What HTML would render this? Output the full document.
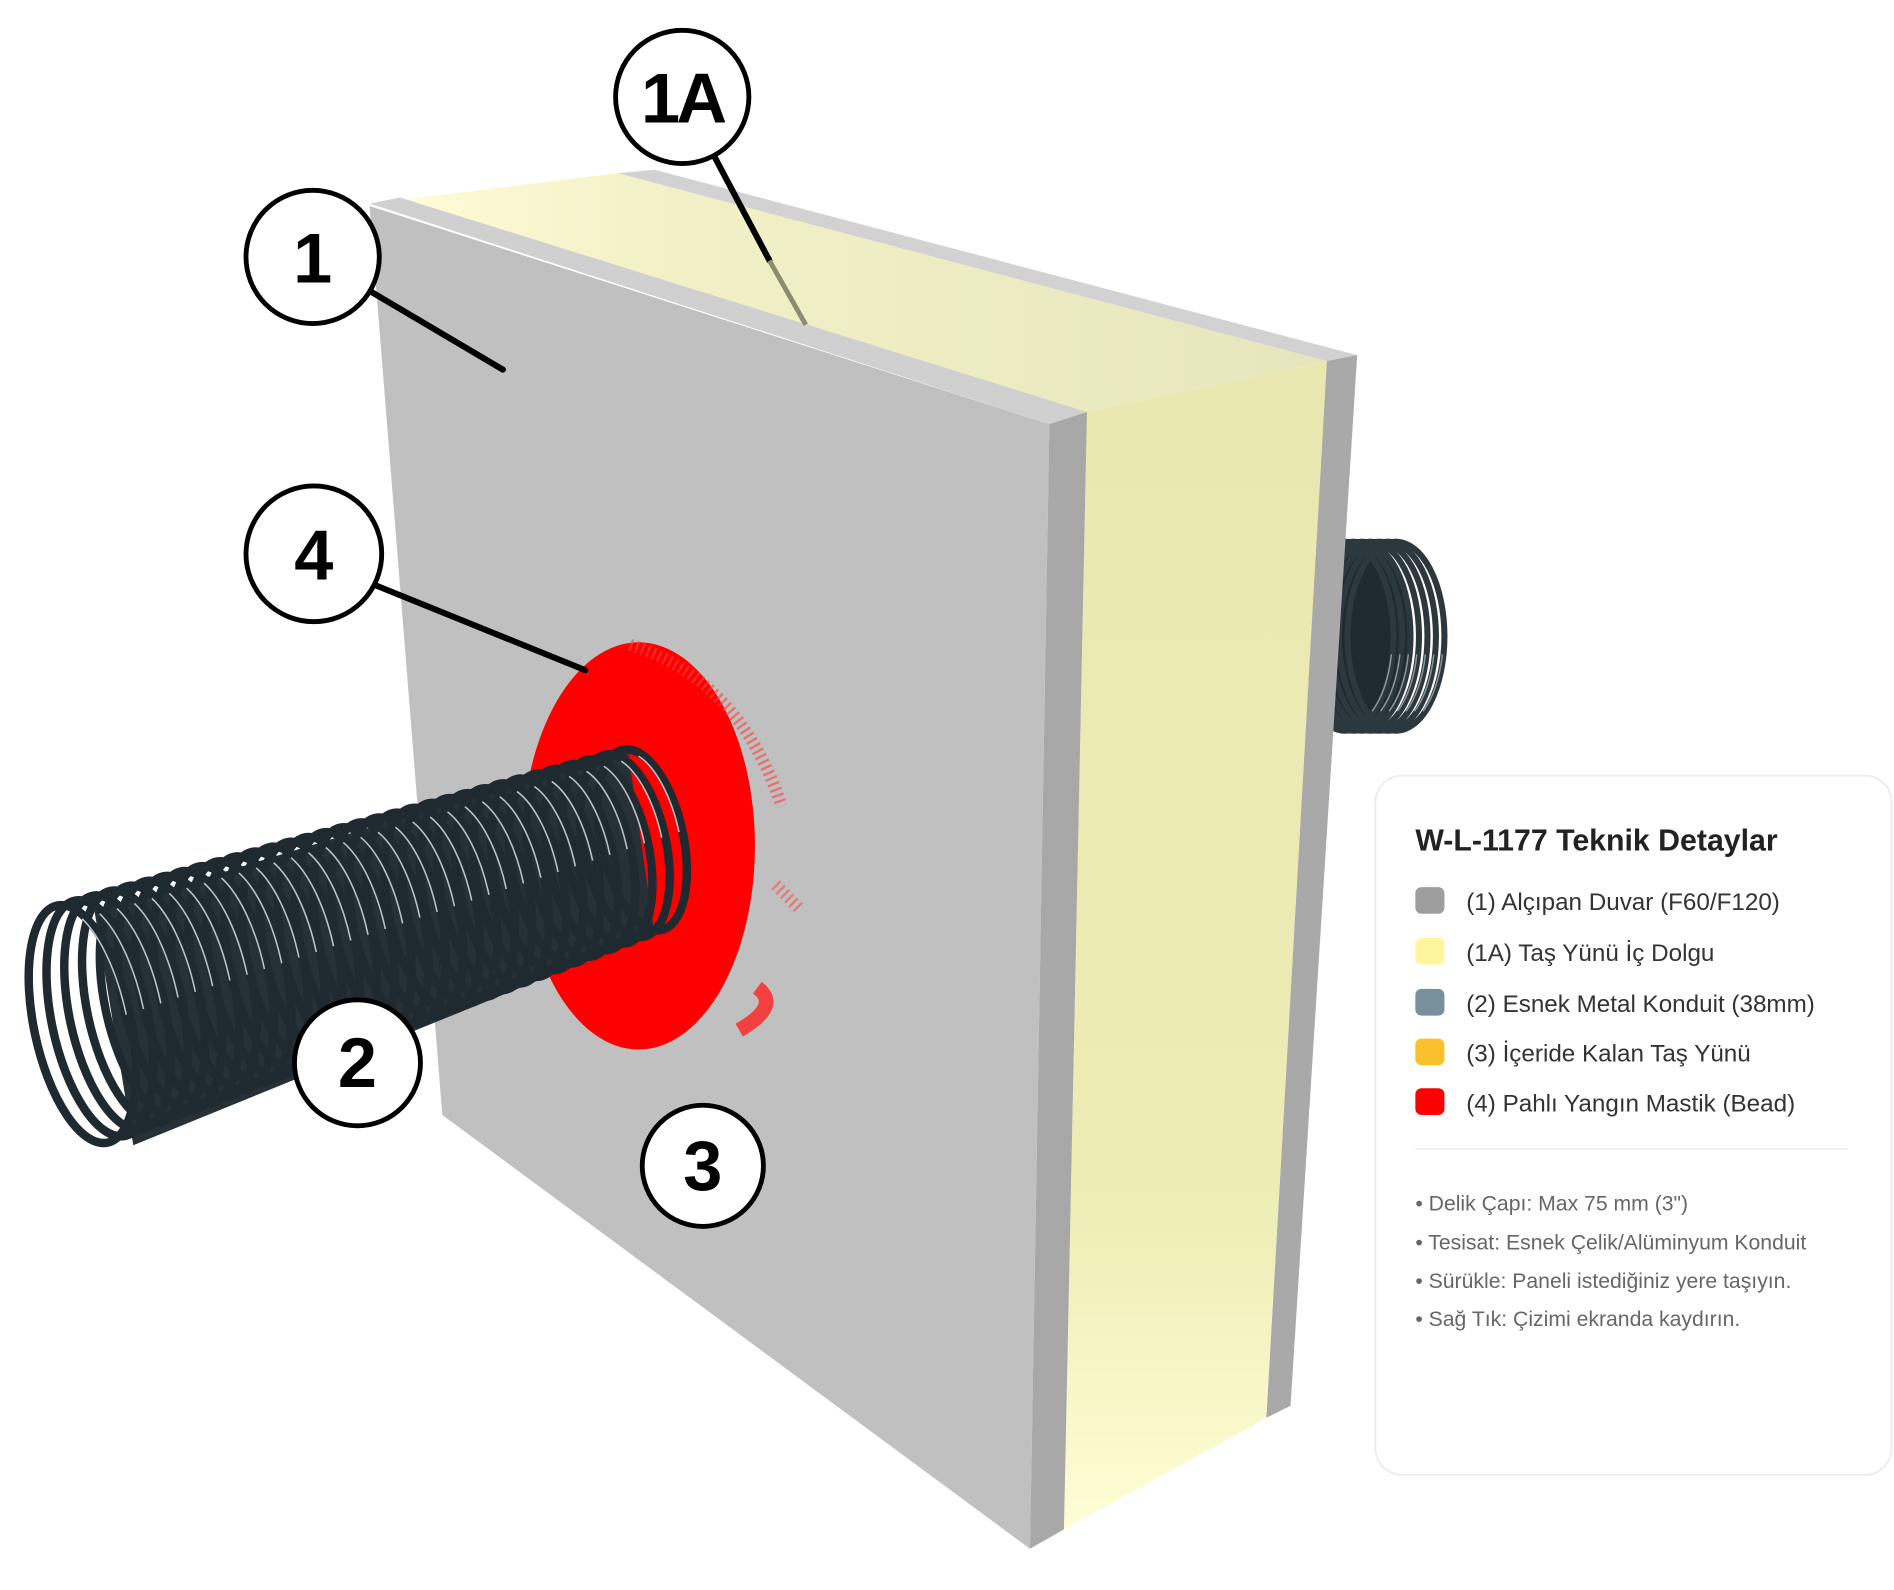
<!DOCTYPE html>
<html><head><meta charset="utf-8"><style>
html,body{margin:0;padding:0;background:#fff;width:1894px;height:1590px;overflow:hidden}
svg{display:block}
text{font-family:"Liberation Sans",sans-serif}
</style></head><body>
<svg id="s" width="1894" height="1590" viewBox="0 0 1563 1312" preserveAspectRatio="none" xmlns="http://www.w3.org/2000/svg">
<defs>
<linearGradient id="yr" x1="0" y1="0" x2="0" y2="1"><stop offset="0" stop-color="#e8e8b0"/><stop offset="0.7" stop-color="#ececb4"/><stop offset="1" stop-color="#fffdd4"/></linearGradient>
<linearGradient id="yt" x1="0" y1="0" x2="1" y2="0"><stop offset="0" stop-color="#fffcd6"/><stop offset="0.3" stop-color="#f2f0c6"/><stop offset="1" stop-color="#e6e6bc"/></linearGradient>
</defs>
<rect width="1563" height="1312" fill="#fff"/>
<!-- back conduit -->
<g id="back">
<ellipse cx="1120" cy="525" rx="45" ry="78" fill="#1f2a30"/>
</g>
<!-- wall -->
<polygon points="1095,295 1120,293 1065,1160 1045,1170" fill="#a9a9a9"/>
<polygon points="510,143 540,140 1120,293 1095,298" fill="#d2d2d2"/>
<polygon points="330,165 510,143 1095,298 897,340" fill="url(#yt)"/>
<polygon points="897,340 1095,298 1045,1170 878,1262" fill="url(#yr)"/>
<polygon points="305,170 866,350 850,1278 365,920" fill="#c0c0c0"/>
<polygon points="305,168 330,163 897,340 866,350" fill="#d0d0d0"/>
<polygon points="866,350 897,340 878,1262 850,1278" fill="#a8a8a8"/>
<!-- red bead -->
<ellipse cx="527" cy="698" rx="96" ry="168" fill="#ff0000"/>
<path d="M520,532 Q610,560 645,665" stroke="#ff4040" stroke-width="10" fill="none" stroke-dasharray="2 3" opacity="0.6"/>
<path d="M640,730 L660,750" stroke="#ff4040" stroke-width="10" stroke-dasharray="2 3" opacity="0.5"/>
<path d="M625,815 Q645,830 610,850" stroke="#ff2020" stroke-width="12" fill="none" opacity="0.8"/>
<!-- front conduit -->
<g id="front"></g>
<!-- callout lines -->
<g stroke="#000" stroke-width="5" stroke-linecap="round">
<line x1="305" y1="240" x2="415" y2="305"/>
<line x1="590" y1="130" x2="635" y2="215"/>
<line x1="310" y1="483" x2="483" y2="553"/>
</g>
<line x1="635" y1="215" x2="665" y2="268" stroke="#8c8c70" stroke-width="4"/>
<g fill="#fff" stroke="#000" stroke-width="4">
<circle cx="258" cy="212" r="55"/>
<circle cx="563" cy="80" r="55"/>
<circle cx="259" cy="457" r="56"/>
<circle cx="295" cy="877" r="52"/>
<circle cx="580" cy="962" r="50"/>
</g>
<g font-weight="bold" font-size="58" text-anchor="middle" fill="#000">
<text x="258" y="233">1</text>
<text x="563" y="101" letter-spacing="-3">1A</text>
<text x="259" y="478">4</text>
<text x="295" y="897">2</text>
<text x="580" y="982">3</text>
</g>
<!-- legend -->
<rect x="1135" y="640" width="426" height="577" rx="22" fill="#fff" stroke="#ececec" stroke-width="1.5"/>
<text x="1168" y="702" font-size="25" font-weight="bold" fill="#222">W-L-1177 Teknik Detaylar</text>
<g font-size="20" fill="#333">
<rect x="1168" y="732" width="24" height="22" rx="5" fill="#9e9e9e"/><text x="1210" y="751">(1) Alçıpan Duvar (F60/F120)</text>
<rect x="1168" y="774" width="24" height="22" rx="5" fill="#fff59d"/><text x="1210" y="793">(1A) Taş Yünü İç Dolgu</text>
<rect x="1168" y="816" width="24" height="22" rx="5" fill="#78909c"/><text x="1210" y="835">(2) Esnek Metal Konduit (38mm)</text>
<rect x="1168" y="857" width="24" height="22" rx="5" fill="#fbc02d"/><text x="1210" y="876">(3) İçeride Kalan Taş Yünü</text>
<rect x="1168" y="898" width="24" height="22" rx="5" fill="#ff0000"/><text x="1210" y="917">(4) Pahlı Yangın Mastik (Bead)</text>
</g>
<line x1="1168" y1="948" x2="1525" y2="948" stroke="#eee" stroke-width="1.5"/>
<g font-size="17.5" fill="#666">
<text x="1168" y="999">• Delik Çapı: Max 75 mm (3")</text>
<text x="1168" y="1031">• Tesisat: Esnek Çelik/Alüminyum Konduit</text>
<text x="1168" y="1063">• Sürükle: Paneli istediğiniz yere taşıyın.</text>
<text x="1168" y="1094">• Sağ Tık: Çizimi ekranda kaydırın.</text>
</g>
</svg>
<script>
var NS="http://www.w3.org/2000/svg";
function el(p,n,a){var e=document.createElementNS(NS,n);for(var k in a)e.setAttribute(k,a[k]);p.appendChild(e);return e;}
var f=document.getElementById("front");
el(f,"polygon",{points:"78,752 518,618 540,770 110,945",fill:"#263036"});
var N=32;
for(var i=N;i>=0;i--){
 var t=i/N, cx=68+462*t, cy=845-152*t, ry=100-24*t, rx=40-6*t;
 var tr="rotate(-12 "+cx+" "+cy+")";
 el(f,"ellipse",{cx:cx,cy:cy,rx:rx,ry:ry,fill:"none",stroke:"#1f2a30","stroke-width":7,transform:tr});
 el(f,"ellipse",{cx:cx-1,cy:cy,rx:rx-2,ry:ry-2,fill:"none",stroke:"#b8c2c7","stroke-width":1.3,"stroke-dasharray":(ry*1.0)+" "+(ry*8),"stroke-dashoffset":(-ry*3.6),transform:tr});
}
var b=document.getElementById("back");
for(var j=0;j<7;j++){
 el(b,"ellipse",{cx:1110+j*7,cy:525,rx:40,ry:78,fill:"none",stroke:"#2d383e","stroke-width":5});
 el(b,"ellipse",{cx:1112+j*7,cy:525,rx:37,ry:74,fill:"none",stroke:"#8a979d","stroke-width":1.2,"stroke-dasharray":"50 400","stroke-dashoffset":"-15"});
}
</script>
</body></html>
